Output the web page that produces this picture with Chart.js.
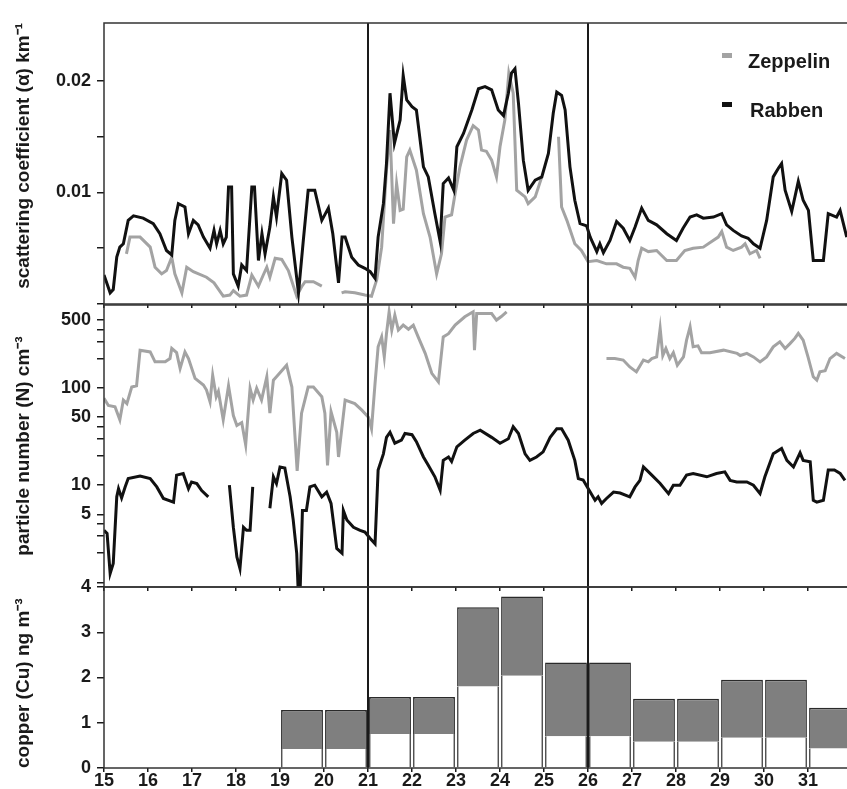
<!DOCTYPE html>
<html><head><meta charset="utf-8">
<script src="https://cdn.jsdelivr.net/npm/chart.js@4.4.1/dist/chart.umd.min.js"></script>
<style>
html,body{margin:0;padding:0;background:#fff;width:847px;height:789px;overflow:hidden;}
#wrap{position:relative;width:847px;height:789px;overflow:hidden;}
canvas{position:absolute;left:0;top:0;}
.leg{position:absolute;font:bold 20px "Liberation Sans",Arial,sans-serif;color:#1a1a1a;line-height:20px;white-space:nowrap;}
.mk{position:absolute;width:10px;height:5px;}
</style></head><body>
<div id="wrap">
<canvas id="c1" width="860" height="789"></canvas>
<canvas id="c2" width="860" height="789"></canvas>
<canvas id="c3" width="860" height="789"></canvas>
<div class="mk" style="left:722px;top:53px;background:#a3a3a3"></div>
<div class="leg" style="left:748px;top:51px">Zeppelin</div>
<div class="mk" style="left:722px;top:102px;background:#111"></div>
<div class="leg" style="left:750px;top:100px">Rabben</div>
</div>
<script>
// ---------- DATA ----------
const dayTicks = [15,16,17,18,19,20,21,22,23,24,25,26,27,28,29,30,31];
const markerDays = [21, 26];

// scattering coefficient, Rabben
const scatRabbenDay = [15.00,15.14,15.21,15.29,15.36,15.44,15.55,15.67,15.89,16.12,16.27,16.42,16.54,16.61,16.69,16.84,16.92,17.03,17.14,17.26,17.41,17.50,17.56,17.64,17.71,17.78,17.83,17.90,17.94,18.05,18.13,18.24,18.36,18.42,18.51,18.59,18.66,18.77,18.85,18.92,19.04,19.15,19.27,19.42,19.53,19.64,19.79,19.95,20.10,20.20,20.33,20.41,20.48,20.63,20.78,20.93,21.05,21.16,21.23,21.35,21.42,21.50,21.60,21.73,21.80,21.88,22.00,22.10,22.26,22.37,22.52,22.64,22.71,22.83,22.95,23.02,23.17,23.36,23.51,23.66,23.81,23.96,24.08,24.19,24.26,24.34,24.42,24.53,24.64,24.80,24.95,25.10,25.21,25.29,25.40,25.48,25.59,25.70,25.82,25.97,26.05,26.20,26.27,26.35,26.50,26.65,26.80,26.95,27.07,27.22,27.37,27.56,27.79,28.01,28.16,28.32,28.47,28.62,28.85,29.04,29.15,29.30,29.49,29.64,29.76,29.91,30.06,30.21,30.33,30.40,30.48,30.63,30.78,30.89,31.01,31.12,31.35,31.46,31.65,31.73,31.88];
const scatRabbenVal = [0.0026,0.0010,0.0013,0.0042,0.0051,0.0054,0.0075,0.0079,0.0077,0.0072,0.0063,0.0048,0.0044,0.0075,0.0090,0.0087,0.0063,0.0075,0.0071,0.0060,0.0050,0.0066,0.0054,0.0066,0.0054,0.0060,0.0105,0.0105,0.0027,0.0016,0.0035,0.0030,0.0105,0.0105,0.0039,0.0063,0.0045,0.0069,0.0096,0.0078,0.0117,0.0111,0.0060,0.0010,0.0057,0.0102,0.0102,0.0075,0.0086,0.0063,0.0019,0.0060,0.0060,0.0042,0.0035,0.0032,0.0029,0.0023,0.0060,0.0090,0.0126,0.0189,0.0144,0.0165,0.0205,0.0183,0.0177,0.0174,0.0123,0.0114,0.0081,0.0056,0.0108,0.0113,0.0102,0.0141,0.0153,0.0174,0.0193,0.0195,0.0192,0.0174,0.0169,0.0189,0.0207,0.0211,0.0180,0.0129,0.0102,0.0111,0.0114,0.0135,0.0171,0.0190,0.0187,0.0174,0.0123,0.0093,0.0072,0.0070,0.0060,0.0047,0.0054,0.0046,0.0057,0.0074,0.0068,0.0057,0.0069,0.0086,0.0075,0.0071,0.0063,0.0057,0.0068,0.0078,0.0080,0.0077,0.0078,0.0081,0.0071,0.0066,0.0061,0.0059,0.0054,0.0050,0.0075,0.0114,0.0122,0.0126,0.0102,0.0083,0.0110,0.0093,0.0084,0.0039,0.0039,0.0081,0.0078,0.0084,0.0060];

// scattering coefficient, Zeppelin (null = gap)
const scatZeppelinDay = [15.51,15.59,15.82,16.05,16.16,16.31,16.42,16.54,16.61,16.77,16.88,17.03,17.33,17.50,17.71,17.86,17.94,18.09,18.24,18.36,18.51,18.62,18.70,18.77,18.89,19.04,19.19,19.38,19.50,19.57,19.76,19.95,20.15,20.40,20.48,20.70,20.93,21.08,21.20,21.31,21.42,21.50,21.58,21.65,21.73,21.80,21.88,21.95,22.10,22.26,22.41,22.56,22.67,22.75,22.90,22.98,23.09,23.24,23.39,23.51,23.58,23.69,23.81,23.92,24.00,24.11,24.20,24.30,24.38,24.57,24.64,24.80,24.95,25.10,25.33,25.40,25.52,25.70,25.85,26.00,26.20,26.42,26.65,26.80,26.95,27.07,27.14,27.22,27.37,27.56,27.79,28.01,28.20,28.39,28.62,28.81,28.96,29.04,29.15,29.30,29.49,29.57,29.68,29.83,29.91];
const scatZeppelinVal = [0.0045,0.0060,0.0060,0.0051,0.0033,0.0027,0.0030,0.0042,0.0027,0.0010,0.0033,0.0029,0.0024,0.0019,0.0007,0.0008,0.0012,0.0007,0.0008,0.0026,0.0016,0.0026,0.0033,0.0024,0.0041,0.0040,0.0030,0.0007,0.0016,0.0020,0.0020,0.0016,null,0.0010,0.0011,0.0010,0.0008,0.0007,0.0022,0.0051,0.0120,0.0156,0.0072,0.0108,0.0084,0.0085,0.0132,0.0138,0.0120,0.0081,0.0060,0.0027,0.0045,0.0078,0.0080,0.0099,0.0123,0.0147,0.0160,0.0156,0.0138,0.0137,0.0129,0.0114,0.0141,0.0165,0.0207,0.0189,0.0102,0.0096,0.0090,0.0096,0.0114,null,0.0150,0.0087,0.0075,0.0054,0.0048,0.0038,0.0039,0.0036,0.0036,0.0033,0.0032,0.0024,0.0039,0.0050,0.0047,0.0048,0.0039,0.0039,0.0048,0.0050,0.0051,0.0056,0.0060,0.0065,0.0051,0.0048,0.0051,0.0054,0.0045,0.0048,0.0041];

// particle number, Zeppelin
const numZeppelinDay = [15.00,15.10,15.25,15.36,15.44,15.52,15.63,15.74,15.82,16.05,16.16,16.39,16.50,16.54,16.65,16.73,16.84,16.92,17.07,17.26,17.33,17.41,17.47,17.55,17.60,17.71,17.83,17.94,18.02,18.13,18.22,18.32,18.39,18.47,18.58,18.70,18.77,18.85,18.92,19.15,19.27,19.39,19.49,19.64,19.76,19.95,20.02,20.08,20.16,20.29,20.33,20.48,20.70,20.86,21.01,21.08,21.16,21.23,21.31,21.37,21.42,21.48,21.54,21.61,21.69,21.80,21.92,22.03,22.14,22.30,22.45,22.60,22.71,22.83,22.98,23.20,23.39,23.42,23.47,23.66,23.81,23.92,24.03,24.15,25.20,26.42,26.61,26.80,26.95,27.10,27.26,27.37,27.45,27.56,27.64,27.70,27.77,27.86,27.94,28.03,28.17,28.24,28.32,28.39,28.50,28.58,28.77,29.08,29.39,29.46,29.61,29.76,29.91,30.06,30.21,30.36,30.48,30.59,30.70,30.78,30.89,31.00,31.12,31.20,31.27,31.39,31.50,31.65,31.84];
const numZeppelinVal = [78,66,64,47,75,69,102,105,244,234,185,185,200,254,230,158,234,200,125,107,95,72,135,81,92,47,105,52,41,44,26,99,75,99,75,130,55,120,130,171,102,14,55,102,102,81,55,16,57,35,19.5,75,69,59,50,38,111,264,334,208,360,604,392,558,392,441,400,441,334,226,141,115,334,360,441,537,604,244,580,580,580,497,540,604,null,200,200,193,164,146,193,185,200,208,408,215,254,200,230,171,208,309,424,264,270,230,230,244,226,215,226,208,185,208,264,297,254,285,322,363,309,208,130,120,146,150,200,226,200];

// particle number, Rabben
const numRabbenDay = [15.00,15.07,15.14,15.21,15.29,15.33,15.40,15.48,15.55,15.82,16.05,16.20,16.35,16.58,16.65,16.80,16.92,16.99,17.11,17.22,17.37,17.60,17.85,17.94,18.02,18.09,18.17,18.24,18.32,18.38,18.60,18.77,18.85,18.92,19.00,19.11,19.23,19.30,19.38,19.41,19.46,19.51,19.60,19.68,19.79,19.95,20.06,20.16,20.29,20.41,20.44,20.52,20.67,20.82,20.93,21.05,21.16,21.23,21.35,21.42,21.50,21.61,21.76,21.84,22.00,22.10,22.26,22.37,22.52,22.64,22.71,22.83,22.90,23.02,23.20,23.39,23.55,23.81,24.00,24.19,24.30,24.42,24.57,24.68,24.83,24.98,25.14,25.29,25.40,25.55,25.70,25.78,25.89,26.05,26.16,26.23,26.31,26.42,26.58,26.73,26.95,27.07,27.18,27.26,27.45,27.64,27.83,27.94,28.09,28.24,28.39,28.70,28.92,29.11,29.23,29.38,29.61,29.76,29.91,30.02,30.21,30.40,30.52,30.67,30.82,30.89,31.05,31.12,31.20,31.35,31.46,31.60,31.73,31.84];
const numRabbenVal = [3.44,3.2,1.24,1.57,7.6,9.2,7.4,9.6,11.7,12.4,11.7,9.6,7.3,6.7,12.7,13.2,9.2,10.8,10.4,8.8,7.6,null,10,3.7,1.83,1.39,3.7,3.44,3.44,9.6,null,5.8,12.2,10.4,15.4,15,7.6,4.4,2.0,0.9,0.9,5.5,5.5,9.6,10,7.6,8.5,6.5,2.24,2.0,5.5,4.4,3.7,3.44,3.3,2.83,2.5,14.3,21,31,35,27,29,34,33,28,19.5,16,12.2,8.9,18,19.5,17.5,24.8,29,34,36.7,31,27,30,39.8,34,21,18,19.5,22,31,38,38,29,18,11.7,11.3,8.5,7.0,7.6,6.5,7.3,8.5,8.3,7.6,9.6,11.2,15.4,12.7,10.4,8.2,10,10,12.7,13.2,12.2,13.2,13.7,11.2,10.8,10.8,10,8.2,12.2,21,23.8,18,15.4,21.5,18,17.4,7.0,6.7,7.0,14.3,14.3,13.2,11.2];

// copper, daily samples
const cuStartDay = [19,20,21,22,23,24,25,26,27,28,29,30,31];
const cuTotal    = [1.28,1.28,1.57,1.57,3.55,3.79,2.33,2.33,1.53,1.53,1.95,1.95,1.33];
const cuLower    = [0.42,0.42,0.75,0.75,1.80,2.04,0.70,0.70,0.58,0.58,0.67,0.67,0.43];

// axis ticks
const scatTicks = [0, 0.005, 0.01, 0.015, 0.02];
const scatLabels = [0.01, 0.02];
const numTicks = [1,2,3,4,5,10,20,30,40,50,100,200,300,400,500];
const numLabels = [5,10,50,100,500];
const cuTicks = [0,1,2,3,4];

// ---------- STYLE / HELPERS ----------
const FONT = '"Liberation Sans", Arial, sans-serif';
const INK = '#1a1a1a';
const GREY_LINE = '#a3a3a3';
const pts = (d, v) => d.map((x, i) => ({x, y: v[i]}));

const frame = {id: 'frame', afterDraw(chart) {
  const a = chart.chartArea, c = chart.ctx;
  c.save(); c.strokeStyle = '#333'; c.lineWidth = 1.5;
  c.strokeRect(a.left, a.top, a.right - a.left, a.bottom - a.top);
  c.restore();
}};

function xAxis(showLabels, h) {
  return {
    type: 'linear', min: 15, max: 32, offset: false,
    afterFit(s) { s.height = h; },
    afterBuildTicks(s) { s.ticks = dayTicks.map(v => ({value: v})); },
    grid: {drawOnChartArea: false, drawTicks: true, tickLength: 4, color: INK, lineWidth: 1.5, offset: false},
    border: {display: false},
    ticks: {display: showLabels, autoSkip: false, maxRotation: 0, padding: -2, color: INK,
      font: {family: FONT, size: 18, weight: 'bold'}, callback: v => String(v)}
  };
}
function yAxis(type, min, max, ticks, labels, title, align) {
  return {
    type, min, max, position: 'left',
    afterFit(s) { s.width = 104; },
    afterBuildTicks(s) { s.ticks = ticks.map(v => ({value: v})); },
    grid: {drawOnChartArea: false, drawTicks: true, tickLength: 7, color: INK, lineWidth: 1.5},
    border: {display: false},
    ticks: {autoSkip: false, padding: 6, color: INK, font: {family: FONT, size: 18, weight: 'bold'},
      callback: v => labels.includes(v) ? String(v) : ''},
    title: {display: true, text: title, align, color: INK, font: {family: FONT, size: 19, weight: 'bold'},
      padding: {top: 12, bottom: 0}}
  };
}
function vline(x, lo, hi) {
  return {type: 'line', data: [{x, y: lo}, {x, y: hi}], borderColor: INK, borderWidth: 2,
    pointRadius: 0, fill: false, order: 0};
}
function series(d, v, color) {
  return {type: 'line', data: pts(d, v), borderColor: color, borderWidth: 3, pointRadius: 0,
    tension: 0, spanGaps: false, fill: false, borderJoin: 'round'};
}
const base = (top, bottom) => ({
  responsive: false, animation: false, events: [],
  layout: {padding: {top, bottom, left: 0, right: 8}},
  plugins: {legend: {display: false}, tooltip: {enabled: false}}
});

// ---------- TOP: scattering coefficient ----------
const SCAT_MAX = 0.0252;
new Chart(document.getElementById('c1'), {
  type: 'line',
  data: {datasets: [
    vline(markerDays[0], 0, SCAT_MAX), vline(markerDays[1], 0, SCAT_MAX),
    series(scatRabbenDay, scatRabbenVal, '#111'),
    series(scatZeppelinDay, scatZeppelinVal, GREY_LINE)
  ]},
  options: Object.assign(base(23, 479), {scales: {
    x: xAxis(false, 6),
    y: yAxis('linear', 0, SCAT_MAX, scatTicks, scatLabels, 'scattering coefficient (α) km⁻¹', 'end')
  }}),
  plugins: [frame]
});

// ---------- MIDDLE: particle number ----------
const NUM_MIN = 0.9, NUM_MAX = 710;
new Chart(document.getElementById('c2'), {
  type: 'line',
  data: {datasets: [
    vline(markerDays[0], NUM_MIN, NUM_MAX), vline(markerDays[1], NUM_MIN, NUM_MAX),
    series(numRabbenDay, numRabbenVal, '#111'),
    series(numZeppelinDay, numZeppelinVal, GREY_LINE)
  ]},
  options: Object.assign(base(305, 196), {scales: {
    x: xAxis(false, 6),
    y: yAxis('logarithmic', NUM_MIN, NUM_MAX, numTicks, numLabels, 'particle number (N) cm⁻³', 'center')
  }}),
  plugins: [frame]
});

// ---------- BOTTOM: copper ----------
const upper = cuStartDay.map((d, i) => ({x: d + 0.5, y: [cuLower[i], cuTotal[i]]}));
const lower = cuStartDay.map((d, i) => ({x: d + 0.5, y: [0, cuLower[i]]}));
new Chart(document.getElementById('c3'), {
  type: 'bar',
  data: {datasets: [
    vline(markerDays[0], 0, 4), vline(markerDays[1], 0, 4),
    {type: 'bar', data: upper, backgroundColor: '#7f7f7f', borderColor: '#2a2a2a',
      borderWidth: {left: 1.5, right: 1.5, top: 1.5, bottom: 0}, borderSkipped: false,
      barPercentage: 0.95, categoryPercentage: 1, grouped: false},
    {type: 'bar', data: lower, backgroundColor: '#ffffff', borderColor: '#2a2a2a',
      borderWidth: {left: 1.5, right: 1.5, top: 0, bottom: 0}, borderSkipped: false,
      barPercentage: 0.95, categoryPercentage: 1, grouped: false}
  ]},
  options: Object.assign(base(587, 0), {scales: {
    x: xAxis(true, 21),
    y: yAxis('linear', 0, 4, cuTicks, cuTicks, 'copper (Cu) ng m⁻³', 'start')
  }}),
  plugins: [frame]
});
</script>
</body></html>
